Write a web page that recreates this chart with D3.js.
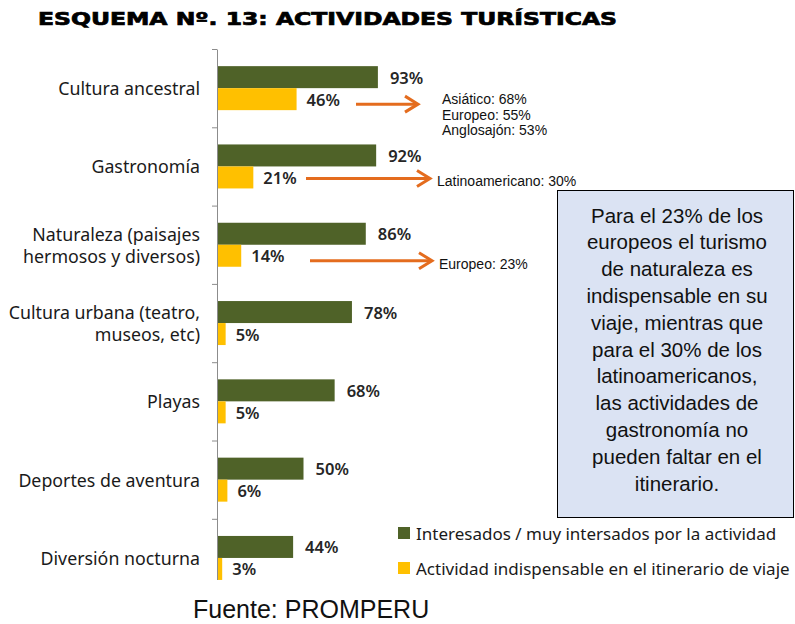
<!DOCTYPE html>
<html>
<head>
<meta charset="utf-8">
<script src="https://cdn.jsdelivr.net/npm/d3@7/dist/d3.min.js"></script>
<style>
  body { margin: 0; background: #fff; }
  svg { display: block; }
</style>
</head>
<body>
<svg id="chart" width="795" height="624"></svg>
<script>
// data
const categories = [
  ["Cultura ancestral"],
  ["Gastronomía"],
  ["Naturaleza (paisajes", "hermosos y diversos)"],
  ["Cultura urbana (teatro,", "museos, etc)"],
  ["Playas"],
  ["Deportes de aventura"],
  ["Diversión nocturna"]
]
const interesados = [93, 92, 86, 78, 68, 50, 44]
const indispensable = [46, 21, 14, 5, 5, 6, 3]
const seriesNames = [
  "Interesados / muy intersados por la actividad",
  "Actividad indispensable en el itinerario de viaje"
]
// call-outs: category index, arrow start / end x, text lines
const callouts = [
  { cat: 0, x1: 356, x2: 418, dy: 5, lines: ["Asiático: 68%", "Europeo: 55%", "Anglosajón: 53%"] },
  { cat: 1, x1: 306, x2: 430, dy: 1, lines: ["Latinoamericano: 30%"] },
  { cat: 2, x1: 310, x2: 432, dy: 5, lines: ["Europeo: 23%"] }
]
const noteLines = [
  "Para el 23% de los", "europeos el turismo", "de naturaleza es",
  "indispensable en su", "viaje, mientras que", "para el 30% de los",
  "latinoamericanos,", "las actividades de", "gastronomía no",
  "pueden faltar en el", "itinerario."
]

const GREEN = "#4f6228"
const GOLD = "#ffc000"
const ORANGE = "#e46c1e"
const labelFont = "'Noto Sans', sans-serif"
const arial = "'Liberation Sans', Arial, sans-serif"

const svg = d3.select("#chart")

// title
svg.append("text")
  .attr("x", 38).attr("y", 25)
  .attr("textLength", 579).attr("lengthAdjust", "spacingAndGlyphs")
  .style("font-family", "'DejaVu Sans', sans-serif")
  .style("font-weight", "bold")
  .style("font-size", "17px")
  .attr("stroke", "#000").attr("stroke-width", 0.7)
  .text("ESQUEMA Nº. 13: ACTIVIDADES TURÍSTICAS")

const x0 = 217
const x = d3.scaleLinear().domain([0, 100]).range([x0, x0 + 173])
const y = d3.scaleBand().domain(d3.range(categories.length)).range([49, 49 + 7 * 78.3])
const yEdge = d3.scaleLinear().domain([0, categories.length]).range([49, 49 + 7 * 78.3])
const barH = 22

svg.append("defs").append("clipPath").attr("id", "plotclip")
  .append("rect").attr("x", 0).attr("y", 40).attr("width", 795).attr("height", 540)

const plot = svg.append("g").attr("clip-path", "url(#plotclip)")

// axis with ticks at band edges
const axis = plot.append("g")
  .attr("transform", `translate(${x0},0)`)
  .call(d3.axisLeft(yEdge).tickValues(d3.range(categories.length + 1)).tickFormat("").tickSize(5).tickSizeOuter(0))
axis.selectAll("path, line").attr("stroke", "#8c8c8c")

const center = i => y(i) + y.bandwidth() / 2

// bars
plot.selectAll("rect.green").data(interesados).join("rect")
  .attr("class", "green")
  .attr("x", x(0) + 1).attr("y", (d, i) => center(i) - barH)
  .attr("width", d => x(d) - x(0) - 1).attr("height", barH)
  .attr("fill", GREEN)

plot.selectAll("rect.gold").data(indispensable).join("rect")
  .attr("class", "gold")
  .attr("x", x(0) + 1).attr("y", (d, i) => center(i))
  .attr("width", d => x(d) - x(0) - 1).attr("height", barH)
  .attr("fill", GOLD)

// value labels
const valStyle = sel => sel
  .style("font-family", labelFont).style("font-size", "16.5px")
  .style("font-weight", "600").attr("fill", "#262626")
  .attr("dominant-baseline", "central")

plot.selectAll("text.vg").data(interesados).join("text")
  .attr("class", "vg")
  .attr("x", d => x(d) + 12).attr("y", (d, i) => center(i) - barH / 2)
  .text(d => d + "%").call(valStyle)

plot.selectAll("text.vy").data(indispensable).join("text")
  .attr("class", "vy")
  .attr("x", d => x(d) + 10).attr("y", (d, i) => center(i) + barH / 2)
  .text(d => d + "%").call(valStyle)

// category labels
const catG = svg.selectAll("g.cat").data(categories).join("g")
  .attr("class", "cat")
  .attr("transform", (d, i) => `translate(200,${center(i)})`)
catG.selectAll("text").data(d => d.map((t, k) => ({ t, k, n: d.length }))).join("text")
  .attr("x", 0)
  .attr("y", d => (d.k - (d.n - 1) / 2) * 22)
  .attr("text-anchor", "end").attr("dominant-baseline", "central")
  .style("font-family", labelFont).style("font-size", "17.8px").attr("fill", "#1a1a1a")
  .text(d => d.t)

// arrows + call-out texts
callouts.forEach(c => {
  const yy = center(c.cat) + barH / 2 + c.dy
  svg.append("line")
    .attr("x1", c.x1).attr("x2", c.x2 - 1).attr("y1", yy).attr("y2", yy)
    .attr("stroke", ORANGE).attr("stroke-width", 3)
  svg.append("path")
    .attr("d", `M${c.x2 - 13},${yy - 8} L${c.x2},${yy} L${c.x2 - 13},${yy + 8}`)
    .attr("fill", "none").attr("stroke", ORANGE).attr("stroke-width", 3)
  const tx = c.x2 + (c.lines.length > 1 ? 24 : 7)
  const ty = c.lines.length > 1 ? yy - 5 : yy + 3
  c.lines.forEach((l, k) => {
    svg.append("text")
      .attr("x", tx).attr("y", ty + k * 15.5)
      .attr("dominant-baseline", "central")
      .style("font-family", arial)
      .style("font-size", "14px").attr("fill", "#111")
      .text(l)
  })
})

// note box
svg.append("rect")
  .attr("x", 557.5).attr("y", 190.5).attr("width", 236).attr("height", 327)
  .attr("fill", "#dbe3f3").attr("stroke", "#000").attr("stroke-width", 1)
svg.selectAll("text.note").data(noteLines).join("text")
  .attr("class", "note")
  .attr("x", 677).attr("y", (d, i) => 215 + i * 26.8)
  .attr("text-anchor", "middle").attr("dominant-baseline", "central")
  .style("font-family", arial)
  .style("font-size", "20.5px").attr("fill", "#111")
  .text(d => d)

// legend
const legend = svg.selectAll("g.leg").data(seriesNames).join("g")
  .attr("class", "leg")
  .attr("transform", (d, i) => `translate(398,${533 + i * 35})`)
legend.append("rect")
  .attr("x", 0).attr("y", -6).attr("width", 12).attr("height", 12)
  .attr("fill", (d, i) => i === 0 ? GREEN : GOLD)
legend.append("text")
  .attr("x", 18).attr("y", 0).attr("dominant-baseline", "central")
  .style("font-family", labelFont).style("font-size", "17px").attr("fill", "#1a1a1a")
  .text(d => d)

// source
svg.append("text")
  .attr("x", 193).attr("y", 609).attr("dominant-baseline", "central")
  .style("font-family", arial)
  .style("font-size", "25px").attr("fill", "#111")
  .text("Fuente: PROMPERU")
</script>
</body>
</html>
